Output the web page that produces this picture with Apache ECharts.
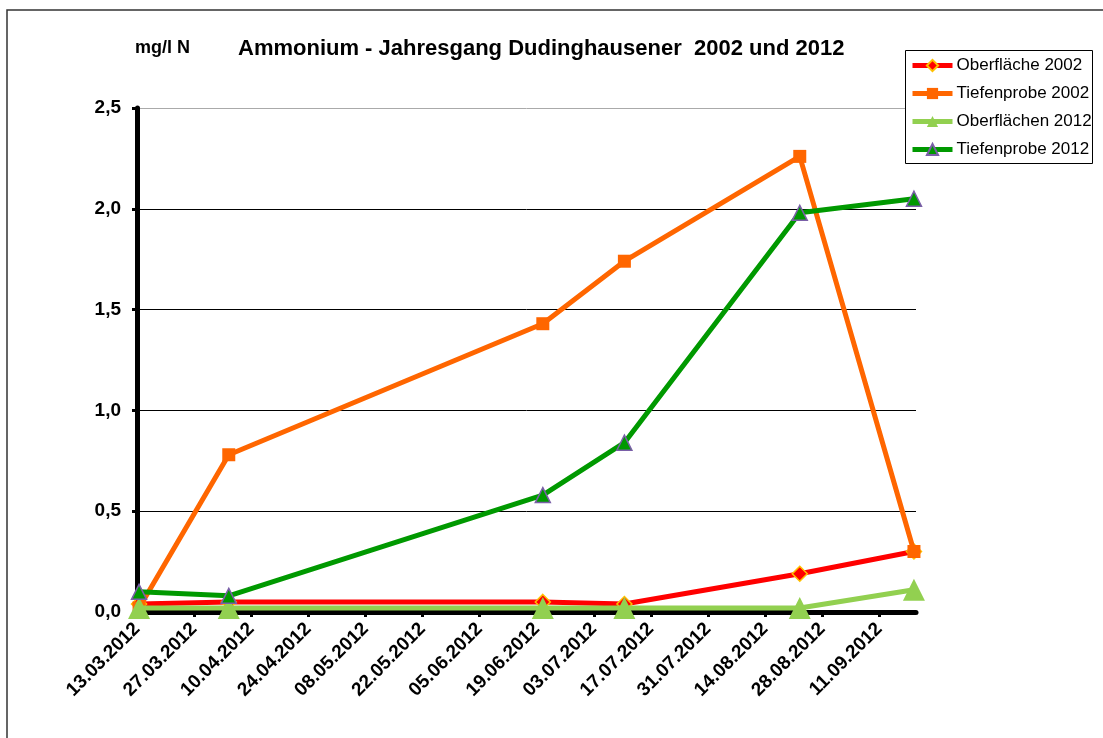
<!DOCTYPE html>
<html>
<head>
<meta charset="utf-8">
<title>Ammonium - Jahresgang Dudinghausener 2002 und 2012</title>
<script src="https://cdn.jsdelivr.net/npm/echarts@6/dist/echarts.min.js"></script>
<style>
  html, body { margin: 0; padding: 0; background: #fff; }
  #chart { width: 1103px; height: 738px; }
</style>
</head>
<body>
<div id="chart"></div>
<script>
// Sampling dates (dd.mm.yyyy)
const sampleDates = ['13.03.2012', '04.04.2012', '20.06.2012', '10.07.2012', '22.08.2012', '19.09.2012'];

// Ammonium, mg/l N
const oberflaeche2002 = [0.04, 0.05, 0.05, 0.04, 0.19, 0.30];
const tiefenprobe2002 = [0.02, 0.78, 1.43, 1.74, 2.26, 0.30];
const oberflaechen2012 = [0.02, 0.02, 0.02, 0.02, 0.02, 0.11];
const tiefenprobe2012 = [0.10, 0.08, 0.58, 0.84, 1.98, 2.05];

const seriesNames = ['Oberfläche 2002', 'Tiefenprobe 2002', 'Oberflächen 2012', 'Tiefenprobe 2012'];

// Axis settings
const axisStart = '13.03.2012';
const axisEnd = '20.09.2012';
const tickStepDays = 14;

const DAY = 86400000;
function parseDate(s) {
  const [d, m, y] = s.split('.').map(Number);
  return Date.UTC(y, m - 1, d);
}
function formatDate(t) {
  const dt = new Date(t);
  const dd = String(dt.getUTCDate()).padStart(2, '0');
  const mm = String(dt.getUTCMonth() + 1).padStart(2, '0');
  return dd + '.' + mm + '.' + dt.getUTCFullYear();
}
const t0 = parseDate(axisStart);
const spanDays = (parseDate(axisEnd) - t0) / DAY;
// each day occupies one slot; points sit in the middle of their day
const dayPos = sampleDates.map(s => (parseDate(s) - t0) / DAY + 0.5);
const tickDays = [];
for (let d = 0; d < spanDays; d += tickStepDays) tickDays.push(d);

function pairs(values) {
  return values.map((v, i) => [dayPos[i], v]);
}

const chart = echarts.init(document.getElementById('chart'), null, { renderer: 'canvas' });

const fontFam = '"Liberation Sans", Arial, sans-serif';

chart.setOption({
  animation: false,
  backgroundColor: '#ffffff',
  title: [
    {
      text: 'mg/l N',
      left: 135, top: 39, padding: 0,
      textStyle: { fontFamily: fontFam, fontWeight: 'bold', fontSize: 18, color: '#000' }
    },
    {
      text: 'Ammonium - Jahresgang Dudinghausener  2002 und 2012',
      left: 238, top: 38, padding: 0,
      textStyle: { fontFamily: fontFam, fontWeight: 'bold', fontSize: 22, color: '#000' }
    }
  ],
  graphic: [
    {
      type: 'rect', z: 0, silent: true,
      shape: { x: 7, y: 10, width: 1200, height: 1000 },
      style: { fill: null, stroke: '#333', lineWidth: 1.5 }
    },
    {
      type: 'rect', z: 3, silent: true,
      shape: { x: 905.5, y: 50.5, width: 187, height: 113 },
      style: { fill: '#fff', stroke: '#000', lineWidth: 1 }
    }
  ],
  legend: {
    orient: 'vertical',
    left: 910, top: 57, padding: 0,
    itemWidth: 40, itemHeight: 14, itemGap: 11,
    z: 5,
    data: seriesNames,
    lineStyle: { width: 5 },
    textStyle: { fontFamily: fontFam, fontSize: 17, color: '#000', padding: [0, 0, 0, -1] }
  },
  grid: { left: 137, top: 108, right: 187, bottom: 126, containLabel: false },
  xAxis: {
    type: 'value',
    min: 0, max: spanDays,
    axisLine: { show: true, onZero: false, lineStyle: { color: '#000', width: 5 } },
    axisTick: { show: true, inside: false, length: 5, customValues: tickDays, lineStyle: { color: '#000', width: 3 } },
    axisLabel: {
      customValues: tickDays,
      rotate: 45, margin: 14,
      fontFamily: fontFam, fontWeight: 'bold', fontSize: 19, color: '#000',
      formatter: v => formatDate(t0 + v * DAY)
    },
    splitLine: { show: false }
  },
  yAxis: {
    type: 'value',
    min: 0, max: 2.5, interval: 0.5,
    axisLine: { show: true, lineStyle: { color: '#000', width: 5 } },
    axisTick: { show: true, inside: false, length: 5, lineStyle: { color: '#000', width: 3 } },
    axisLabel: {
      margin: 16,
      fontFamily: fontFam, fontWeight: 'bold', fontSize: 19, color: '#000',
      formatter: v => v.toFixed(1).replace('.', ',')
    },
    splitLine: { show: true, lineStyle: { color: ['#000', '#000', '#000', '#000', '#000', '#aaa'], width: 1 } }
  },
  series: [
    {
      name: seriesNames[0], type: 'line', z: 2,
      data: pairs(oberflaeche2002),
      symbol: 'diamond', symbolSize: 15,
      lineStyle: { color: '#ff0000', width: 5 },
      itemStyle: { color: '#ff0000', borderColor: '#ffc000', borderWidth: 1.5 },
      emphasis: { disabled: true }
    },
    {
      name: seriesNames[1], type: 'line', z: 3,
      data: pairs(tiefenprobe2002),
      symbol: 'rect', symbolSize: 13,
      lineStyle: { color: '#ff6600', width: 5 },
      itemStyle: { color: '#ff6600' },
      emphasis: { disabled: true }
    },
    {
      name: seriesNames[2], type: 'line', z: 4,
      data: pairs(oberflaechen2012),
      symbol: 'triangle', symbolSize: 22,
      lineStyle: { color: '#92d050', width: 5 },
      itemStyle: { color: '#92d050' },
      emphasis: { disabled: true }
    },
    {
      name: seriesNames[3], type: 'line', z: 5,
      data: pairs(tiefenprobe2012),
      symbol: 'triangle', symbolSize: 15,
      lineStyle: { color: '#009900', width: 5 },
      itemStyle: { color: '#009900', borderColor: '#7a5fa8', borderWidth: 1.5 },
      emphasis: { disabled: true }
    }
  ]
});
</script>
</body>
</html>
